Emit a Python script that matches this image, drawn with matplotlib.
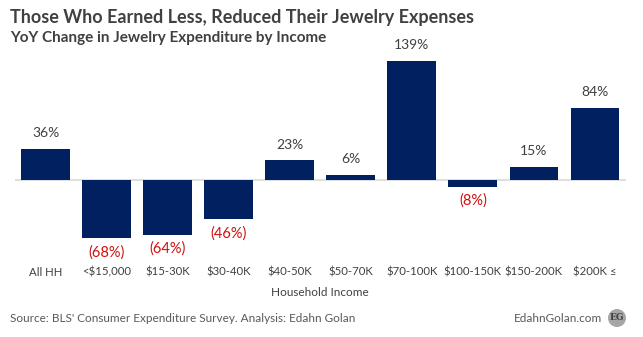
import matplotlib
matplotlib.use("Agg")
import matplotlib.pyplot as plt
from matplotlib.patches import Ellipse

categories = ["All HH", "<$15,000", "$15-30K", "$30-40K", "$40-50K", "$50-70K",
              "$70-100K", "$100-150K", "$150-200K", "$200K \u2264"]
values = [36, -68, -64, -46, 23, 6, 139, -8, 15, 84]

plt.rcParams['font.family'] = ['Lato', 'DejaVu Sans']

W, H = 643, 337
fig = plt.figure(figsize=(W / 100, H / 100), dpi=100)
ax_top, ax_bot, zero_y = 50, 255, 180
scale = (180 - 61) / 139.0
ymax = (zero_y - ax_top) / scale
ymin = -(ax_bot - zero_y) / scale
left, right = 15, 625.5
ax = fig.add_axes([left / W, 1 - ax_bot / H, (right - left) / W, (ax_bot - ax_top) / H])

x = list(range(len(categories)))
ax.bar(x, values, width=0.8, color="#002060", zorder=2)
ax.axhline(0, color="#d9d9d9", lw=1.2, zorder=1)
ax.set_xlim(-0.5, len(categories) - 0.5)
ax.set_ylim(ymin, ymax)
for s in ax.spines.values():
    s.set_visible(False)
ax.set_yticks([])
ax.set_xticks([])

for xi, v in zip(x, values):
    if v >= 0:
        ax.annotate(f"{v}%", (xi, v), xytext=(0, 7), textcoords="offset points",
                    ha="center", va="bottom", fontsize=10, color="#404040")
    else:
        ax.annotate(f"({-v}%)", (xi, v), xytext=(0, -5), textcoords="offset points",
                    ha="center", va="top", fontsize=10.5, color="#d01010")

# category labels
for xi, c in zip(x, categories):
    xp = (left + (xi + 0.5) * (right - left) / len(categories)) / W
    fig.text(xp, 1 - 272 / H, c, ha="center", va="center", fontsize=8.2, color="#404040")

fig.text((left + right) / 2 / W, 1 - 293 / H, "Household Income", ha="center", va="center",
         fontsize=8.5, color="#404040")

fig.text(10 / W, 1 - 17 / H, "Those Who Earned Less, Reduced Their Jewelry Expenses",
         ha="left", va="center", fontsize=13, fontweight="bold", color="#404040")
fig.text(10 / W, 1 - 38 / H, "YoY Change in Jewelry Expenditure by Income",
         ha="left", va="center", fontsize=11, fontweight="bold", color="#404040")

fig.text(10 / W, 1 - 319 / H, "Source: BLS' Consumer Expenditure Survey. Analysis: Edahn Golan",
         ha="left", va="center", fontsize=8.5, color="#595959")
fig.text(602 / W, 1 - 319 / H, "EdahnGolan.com", ha="right", va="center",
         fontsize=8.5, color="#595959")
circ = Ellipse((617 / W, 1 - 318 / H), 18 / W, 18 / H, transform=fig.transFigure,
               facecolor="#a6a6a6", edgecolor="none", zorder=5)
fig.add_artist(circ)
fig.text(617 / W, 1 - 318 / H, "EG", ha="center", va="center", fontsize=6.5,
         color="#404040", fontweight="bold", family="DejaVu Serif", zorder=6)

fig.savefig("out.png", dpi=100, facecolor="white")
